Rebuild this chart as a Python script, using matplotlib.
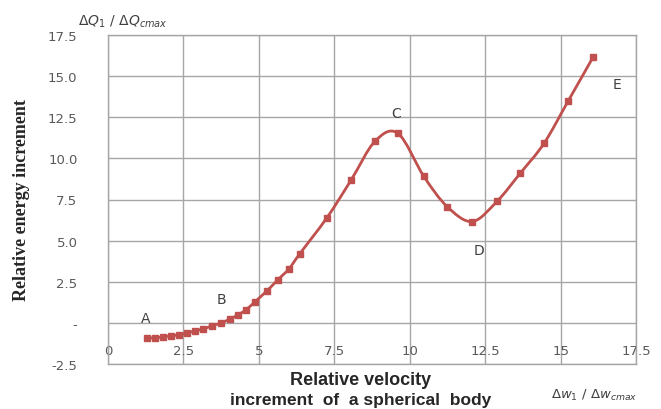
import numpy as np
import matplotlib
matplotlib.use("Agg")
import matplotlib.pyplot as plt
from matplotlib.path import Path
from matplotlib.patches import PathPatch
from matplotlib.ticker import FixedLocator, FixedFormatter

# ---- data ----
vel = [1.29, 1.56, 1.82, 2.09, 2.35, 2.62, 2.88, 3.15, 3.45, 3.75, 4.05, 4.31,
       4.57, 4.87, 5.27, 5.63, 6.00, 6.36, 7.26, 8.05, 8.85, 9.61, 10.47,
       11.24, 12.07, 12.89, 13.66, 14.45, 15.25, 16.08]
energy = [-0.91, -0.91, -0.85, -0.79, -0.73, -0.61, -0.49, -0.37, -0.18, 0.0,
          0.24, 0.49, 0.79, 1.28, 1.95, 2.62, 3.29, 4.21, 6.40, 8.66, 11.04,
          11.52, 8.90, 7.07, 6.16, 7.38, 9.09, 10.91, 13.48, 16.16]
point_names = ["A", "B", "C", "D", "E"]
point_x = [1.26, 3.75, 9.55, 12.3, 16.87]
point_y = [0.30, 1.46, 12.75, 4.45, 14.5]
xticks = [0, 2.5, 5, 7.5, 10, 12.5, 15, 17.5]
xticklabels = ["0", "2.5", "5", "7.5", "10", "12.5", "15", "17.5"]
yticks = [-2.5, 0, 2.5, 5, 7.5, 10, 12.5, 15, 17.5]
yticklabels = ["-2.5", "-", "2.5", "5.0", "7.5", "10.0", "12.5", "15.0", "17.5"]

RED = "#C0504D"
GRID = "#A6A6A6"
TXT = "#595959"

fig = plt.figure(figsize=(6.61, 4.10), dpi=100)
ax = fig.add_axes([108 / 661, 45 / 410, 528 / 661, 329 / 410])
ax.set_xlim(0, 17.5)
ax.set_ylim(-2.5, 17.5)

# smoothed line (Catmull-Rom style Bezier through data points)
P = np.column_stack([vel, energy])
ext = np.vstack([P[0], P, P[-1]])
verts = [tuple(P[0])]
codes = [Path.MOVETO]
for i in range(1, len(ext) - 2):
    p0, p1, p2, p3 = ext[i - 1], ext[i], ext[i + 1], ext[i + 2]
    c1 = p1 + (p2 - p0) / 6.0
    c2 = p2 - (p3 - p1) / 6.0
    verts += [tuple(c1), tuple(c2), tuple(p2)]
    codes += [Path.CURVE4] * 3
ax.add_patch(PathPatch(Path(verts, codes), facecolor="none", edgecolor=RED,
                       lw=2.0, zorder=3))
ax.plot(vel, energy, linestyle="none", marker="s", markersize=5,
        color=RED, zorder=4)

for n, x, y in zip(point_names, point_x, point_y):
    ax.text(x, y, n, fontsize=10, color="#404040", ha="center", va="center",
            family="DejaVu Sans")

ax.xaxis.set_major_locator(FixedLocator(xticks))
ax.xaxis.set_major_formatter(FixedFormatter(xticklabels))
ax.yaxis.set_major_locator(FixedLocator(yticks))
ax.yaxis.set_major_formatter(FixedFormatter(yticklabels))
ax.grid(True, color=GRID, lw=1.0)
ax.set_axisbelow(True)
for s in ax.spines.values():
    s.set_color(GRID)
    s.set_linewidth(1.0)
ax.tick_params(axis="both", length=0, labelsize=9.5, labelcolor=TXT)
ax.tick_params(axis="x", pad=-14.5)
ax.tick_params(axis="y", pad=22)
for lab in ax.get_xticklabels() + ax.get_yticklabels():
    lab.set_family("DejaVu Sans")

fig.text(22 / 661, 1 - 200 / 410, "Relative energy increment", rotation=90,
         ha="center", va="center", fontsize=13, fontweight="bold",
         family="Liberation Serif", color="#262626")
fig.text(361 / 661, 1 - 381 / 410, "Relative velocity", ha="center",
         va="center", fontsize=13, fontweight="bold",
         family="Liberation Sans", color="#262626")
fig.text(361 / 661, 1 - 401 / 410, "increment  of  a spherical  body",
         ha="center", va="center", fontsize=12.5, fontweight="bold",
         family="Liberation Sans", color="#262626")
fig.text(123 / 661, 1 - 22 / 410, r"$\Delta Q_1\ /\ \Delta Q_{cmax}$",
         ha="center", va="center", fontsize=10, color="#404040")
fig.text(594 / 661, 1 - 395 / 410, r"$\Delta w_1\ /\ \Delta w_{cmax}$",
         ha="center", va="center", fontsize=9.5, color="#404040")

fig.savefig("out.png", dpi=100)
